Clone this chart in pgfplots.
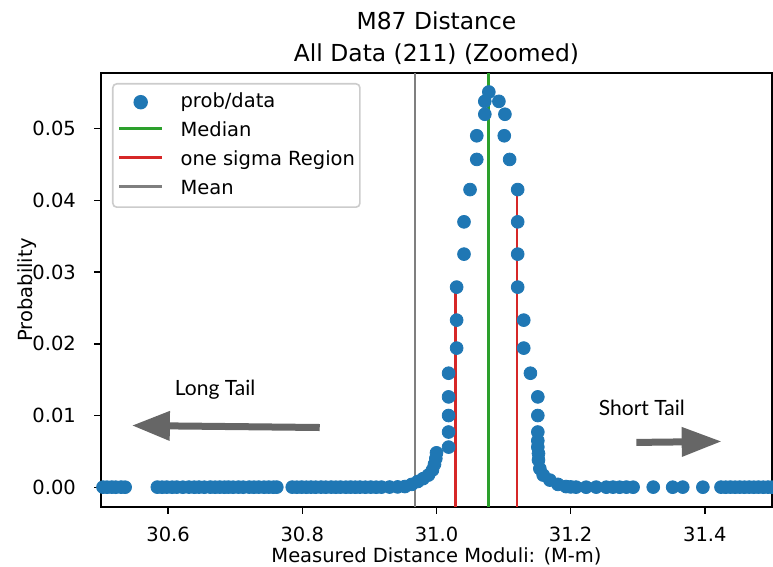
\documentclass[border=0pt]{standalone}
\usepackage{fontspec}
\setmainfont{DejaVu Sans}
\newfontfamily\notefont{Lato}
\usepackage{pgfplots}
\pgfplotsset{compat=1.18}
\usepackage{pgfplotstable}
\usetikzlibrary{arrows.meta}

\definecolor{c0}{HTML}{1F77B4}
\definecolor{c2}{HTML}{2CA02C}
\definecolor{c3}{HTML}{D62728}
\definecolor{c7}{HTML}{7F7F7F}
\definecolor{arrowgray}{HTML}{666666}

\newcommand{\tickfont}{\fontsize{9.75}{11}\selectfont}
\newcommand{\titlefont}{\fontsize{11.7}{14}\selectfont}
\newcommand{\notesize}{\notefont\fontsize{10.5}{12}\selectfont}

% probability per distance modulus bin (zoomed window)
\pgfplotstableread{
x y
30.503 0.00002
30.509 0.00001
30.516 0.00002
30.522 0.00001
30.530 0.00002
30.536 0.00001
30.584 0.00002
30.591 0.00001
30.598 0.00002
30.606 0.00001
30.613 0.00002
30.622 0.00001
30.631 0.00002
30.639 0.00001
30.646 0.00002
30.654 0.00001
30.663 0.00002
30.670 0.00001
30.677 0.00002
30.684 0.00001
30.690 0.00002
30.697 0.00001
30.705 0.00002
30.712 0.00001
30.721 0.00002
30.728 0.00001
30.735 0.00002
30.743 0.00001
30.750 0.00002
30.757 0.00001
30.762 0.00002
30.785 0.00002
30.792 0.00001
30.799 0.00002
30.806 0.00001
30.813 0.00002
30.820 0.00001
30.828 0.00002
30.835 0.00001
30.843 0.00002
30.850 0.00001
30.857 0.00002
30.865 0.00001
30.872 0.00002
30.879 0.00001
30.886 0.00002
30.894 0.00001
30.902 0.00002
30.910 0.00001
30.918 0.00002
30.930 0.00003
30.942 0.00005
30.953 0.0001
30.963 0.0004
30.972 0.0008
30.980 0.0012
30.988 0.0017
30.994 0.0024
30.997 0.0032
30.999 0.0040
31.000 0.0048
31.018 0.0056
31.018 0.0077
31.018 0.0100
31.018 0.0126
31.018 0.0159
31.030 0.0194
31.030 0.0233
31.030 0.0279
31.041 0.0325
31.041 0.0370
31.050 0.0415
31.060 0.0457
31.060 0.0490
31.072 0.0520
31.072 0.0538
31.078 0.0551
31.093 0.0538
31.102 0.0520
31.101 0.0490
31.109 0.0457
31.121 0.0415
31.121 0.0370
31.121 0.0325
31.121 0.0279
31.130 0.0233
31.130 0.0194
31.140 0.0159
31.151 0.0126
31.151 0.0100
31.151 0.0077
31.151 0.0065
31.151 0.0056
31.152 0.0047
31.152 0.0038
31.154 0.0026
31.159 0.0017
31.169 0.0010
31.181 0.0004
31.193 0.0001
31.200 0.00005
31.208 0.00002
31.223 0.00001
31.238 0.00002
31.253 0.00001
31.263 0.00002
31.273 0.00001
31.283 0.00002
31.293 0.00001
31.323 0.00002
31.352 0.00001
31.367 0.00002
31.397 0.00001
31.424 0.00002
31.431 0.00001
31.438 0.00002
31.445 0.00001
31.452 0.00002
31.459 0.00001
31.466 0.00002
31.473 0.00001
31.480 0.00002
31.487 0.00001
31.494 0.00002
31.500 0.00001
}\probdata

\begin{document}
\begin{tikzpicture}
\begin{axis}[
    name=ax, at={(0,0)}, anchor=south west,
    scale only axis, width=335.5pt, height=217pt,
    xmin=30.5, xmax=31.5, ymin=-0.00275, ymax=0.05775,
    xtick={30.6,30.8,31.0,31.2,31.4},
    xticklabels={30.6,30.8,31.0,31.2,31.4},
    ytick={0,0.01,0.02,0.03,0.04,0.05},
    yticklabels={0.00,0.01,0.02,0.03,0.04,0.05},
    scaled y ticks=false,
    xtick pos=bottom, ytick pos=left,
    tick align=outside, major tick length=3.35pt,
    every tick/.style={black, line width=0.75pt},
    axis line style={black, line width=0.75pt},
    ticklabel style={font=\tickfont},
    xticklabel style={inner sep=0pt, anchor=base, yshift=-14pt},
    yticklabel style={inner sep=0pt, anchor=east, xshift=-9pt},
    legend style={at={(0,1)}, anchor=north west, xshift=5.5pt, yshift=-5pt,
        draw=black!20, line width=0.8pt, rounded corners=2pt, fill=white,
        font=\tickfont, inner xsep=2.5pt, inner ysep=4.5pt,
        row sep=5.3pt, column sep=8.5pt,
        nodes={inner sep=0pt, text height=7.2pt, text depth=2pt},
        cells={anchor=base west}},
    legend image code/.code={\draw[#1] (0pt,4pt) -- (21.5pt,4pt);},
]
\addplot[only marks, mark=*, mark size=3.2pt, color=c0,
    mark options={fill=c0, draw=c0},
    legend image code/.code={\path (0pt,0pt) (21.5pt,0pt);
        \fill[c0] (10.75pt,2.5pt) circle (3.2pt);}]
    table {\probdata};
\addlegendentry{prob/data}

\addplot[c2, line width=1.4pt] coordinates {(31.078,-0.00275) (31.078,0.05775)};
\addlegendentry{Median}

\addplot[c3, line width=1.4pt] coordinates {(31.028,-0.00275) (31.028,0.0279)};
\addlegendentry{one sigma Region}
\addplot[c3, line width=1.4pt, forget plot] coordinates {(31.120,-0.00275) (31.120,0.0415)};

\addplot[c7, line width=1.4pt] coordinates {(30.968,-0.00275) (30.968,0.05775)};
\addlegendentry{Mean}

\node[font=\notesize, anchor=base] at (axis cs:30.670,0.01278) {Long Tail};
\draw[arrowgray, line width=3.5pt, -{Triangle[length=19pt,width=14pt]}]
    (axis cs:30.826,0.00833) -- (axis cs:30.546,0.00861);
\node[font=\notesize, anchor=base] at (axis cs:31.306,0.0100) {Short Tail};
\draw[arrowgray, line width=3.5pt, -{Triangle[length=20pt,width=14pt]}]
    (axis cs:31.298,0.00625) -- (axis cs:31.425,0.00639);
\end{axis}

\node[anchor=base, font=\titlefont] at ([yshift=21.5pt]ax.north) {M87 Distance};
\node[anchor=base, font=\titlefont] at ([yshift=5.5pt]ax.north) {All Data (211) (Zoomed)};
\node[anchor=base, font=\tickfont] at ([yshift=-28pt]ax.south) {Measured Distance Moduli: (M-m)};
\node[anchor=base, font=\tickfont, rotate=90] at ([xshift=-34pt]ax.west) {Probability};

\pgfresetboundingbox
\path (-50.5pt,-30pt) rectangle (336pt,253.5pt);
\end{tikzpicture}
\end{document}
